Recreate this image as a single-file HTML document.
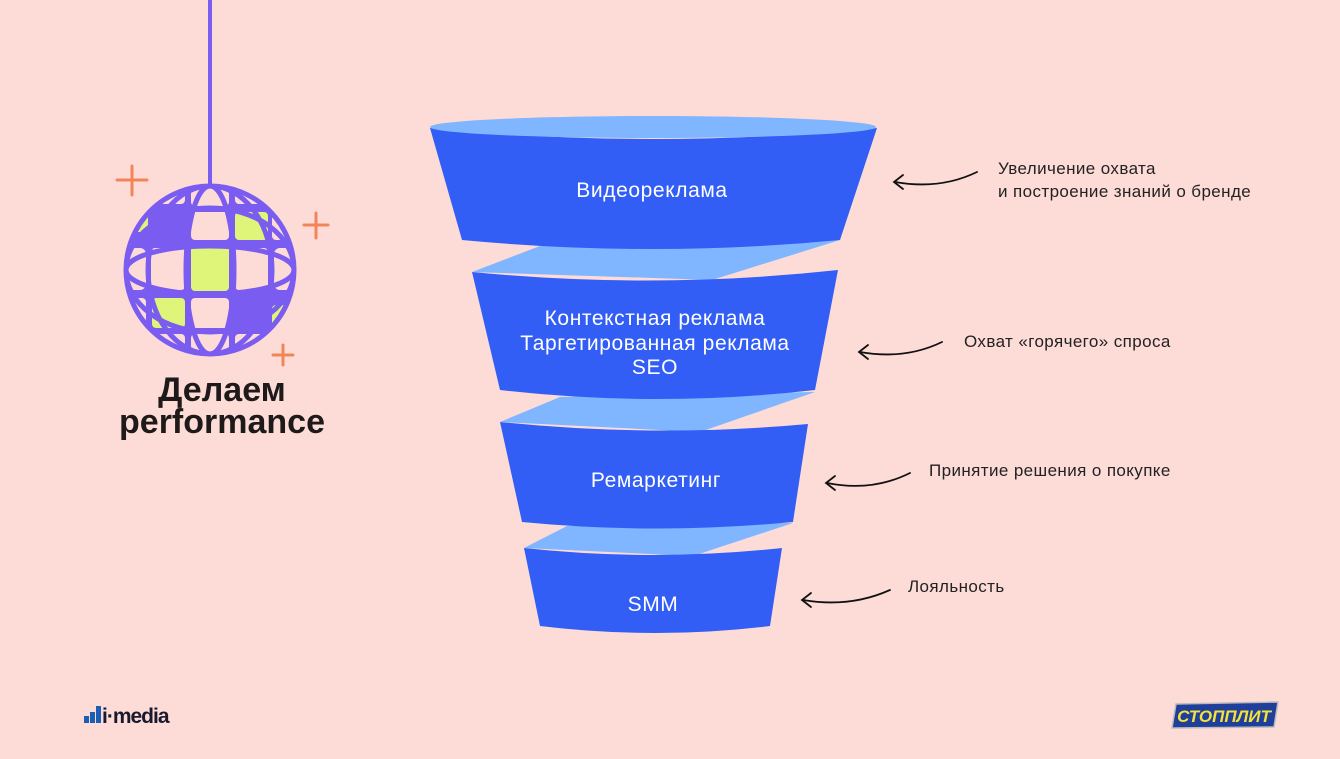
<!DOCTYPE html>
<html><head><meta charset="utf-8"><style>
body{margin:0;width:1340px;height:754px;background:#fddcd8;overflow:hidden;font-family:"Liberation Sans","DejaVu Sans",sans-serif}
</style></head><body>
<svg width="1340" height="754" viewBox="0 0 1340 754" xmlns="http://www.w3.org/2000/svg">
<!-- disco ball -->
<line x1="210" y1="0" x2="210" y2="186" stroke="#7b5cf0" stroke-width="4"/>
<g stroke="#f2845a" stroke-width="3" stroke-linecap="round">
<line x1="117" y1="180" x2="147" y2="180"/><line x1="132" y1="166" x2="132" y2="195"/>
<line x1="304" y1="225" x2="328" y2="225"/><line x1="316" y1="213" x2="316" y2="238"/>
<line x1="273" y1="355" x2="293" y2="355"/><line x1="283" y1="345" x2="283" y2="365"/>
</g>
<defs><clipPath id="ball"><circle cx="210" cy="270" r="82"/></clipPath></defs>
<circle cx="210" cy="270" r="86" fill="#7b5cf0"/>
<g clip-path="url(#ball)">
<rect x="120" y="186" width="28" height="18" rx="4" fill="#fddcd8"/>
<rect x="152" y="186" width="33" height="18" rx="4" fill="#fddcd8"/>
<rect x="191" y="186" width="38" height="20" rx="4" fill="#fddcd8"/>
<rect x="235" y="186" width="33" height="18" rx="4" fill="#fddcd8"/>
<rect x="128" y="210" width="20" height="22" rx="4" fill="#def57a"/>
<rect x="191" y="212" width="38" height="28" rx="4" fill="#fddcd8"/>
<rect x="235" y="212" width="33" height="28" rx="4" fill="#def57a"/>
<rect x="272" y="215" width="22" height="25" rx="4" fill="#fddcd8"/>
<rect x="126" y="248" width="20" height="42" rx="6" fill="#fddcd8"/>
<rect x="151" y="248" width="34" height="42" rx="4" fill="#fddcd8"/>
<rect x="191" y="246" width="38" height="45" rx="4" fill="#def57a"/>
<rect x="235" y="248" width="33" height="42" rx="4" fill="#fddcd8"/>
<rect x="274" y="248" width="20" height="42" rx="6" fill="#fddcd8"/>
<rect x="126" y="298" width="20" height="25" rx="4" fill="#fddcd8"/>
<rect x="152" y="298" width="33" height="30" rx="4" fill="#def57a"/>
<rect x="191" y="298" width="38" height="30" rx="4" fill="#fddcd8"/>
<rect x="272" y="305" width="20" height="22" rx="4" fill="#def57a"/>
<rect x="152" y="334" width="33" height="22" rx="4" fill="#fddcd8"/>
<rect x="191" y="334" width="38" height="22" rx="4" fill="#fddcd8"/>
<rect x="235" y="334" width="33" height="22" rx="4" fill="#fddcd8"/>
<g fill="none" stroke="#7b5cf0" stroke-width="5">
<ellipse cx="210" cy="270" rx="24" ry="84"/>
<ellipse cx="210" cy="270" rx="62" ry="84"/>
<ellipse cx="210" cy="270" rx="84" ry="24"/>
<ellipse cx="210" cy="270" rx="84" ry="62"/>
</g>
</g>
<circle cx="210" cy="270" r="84" fill="none" stroke="#7b5cf0" stroke-width="5"/>
<text x="222" y="401" text-anchor="middle" font-size="34" font-weight="bold" fill="#1e1a1a">Делаем</text>
<text x="222" y="433" text-anchor="middle" font-size="34" font-weight="bold" fill="#1e1a1a">performance</text>

<g fill="#80b5ff">
<polygon points="540,246 840,240 712,280 472,272"/>
<polygon points="560,397 815,392 700,432 500,422"/>
<polygon points="567,526 793,523 693,556 524,548"/>
</g>
<path d="M430,128 Q653,150 877,128 L840,240 Q651,258 462,240 Z" fill="#335ef5"/>
<ellipse cx="653" cy="127" rx="223" ry="11" fill="#80b5ff"/>
<path d="M472,272 Q655,290 838,270 L815,390 Q657,408 500,390 Z" fill="#335ef5"/>
<path d="M500,422 Q654,438 808,424 L793,522 Q657,535 522,522 Z" fill="#335ef5"/>
<path d="M524,548 Q653,562 782,548 L770,626 Q655,640 540,626 Z" fill="#335ef5"/>
<g fill="#fff" font-size="21" text-anchor="middle" letter-spacing="0.6">
<text x="652" y="197">Видеореклама</text>
<text x="655" y="325">Контекстная реклама</text>
<text x="655" y="350">Таргетированная реклама</text>
<text x="655" y="374">SEO</text>
<text x="656" y="487">Ремаркетинг</text>
<text x="653" y="611">SMM</text>
</g>
<g fill="none" stroke="#111" stroke-width="1.8" stroke-linecap="round">
<path d="M977,172 Q940,190 895,182"/><path d="M903,175 L894,182 L903,189"/>
<path d="M942,342 Q905,360 860,352"/><path d="M868,345 L859,352 L868,359"/>
<path d="M910,473 Q872,492 827,483"/><path d="M835,476 L826,483 L835,490"/>
<path d="M890,590 Q850,608 803,600"/><path d="M811,593 L802,600 L811,607"/>
</g>
<g fill="#222" font-size="17" letter-spacing="0.4">
<text x="998" y="174">Увеличение охвата</text>
<text x="998" y="197">и построение знаний о бренде</text>
<text x="964" y="347">Охват «горячего» спроса</text>
<text x="929" y="476">Принятие решения о покупке</text>
<text x="908" y="592">Лояльность</text>
</g>
<g fill="#1b5fb4"><rect x="84" y="716" width="5" height="7"/><rect x="90" y="712" width="5" height="11"/><rect x="96" y="706" width="5" height="17"/></g>
<text x="102" y="723" font-size="21" font-weight="bold" fill="#1a1a2e" letter-spacing="-1">i·media</text>
<polygon points="1176,704 1278,702 1274,727 1172,728" fill="#1f3f9a" stroke="#bbb" stroke-width="1.5"/>
<text x="1224" y="722" text-anchor="middle" font-size="17" font-weight="bold" font-style="italic" fill="#f4e23a">СТОППЛИТ</text>
</svg>
</body></html>
